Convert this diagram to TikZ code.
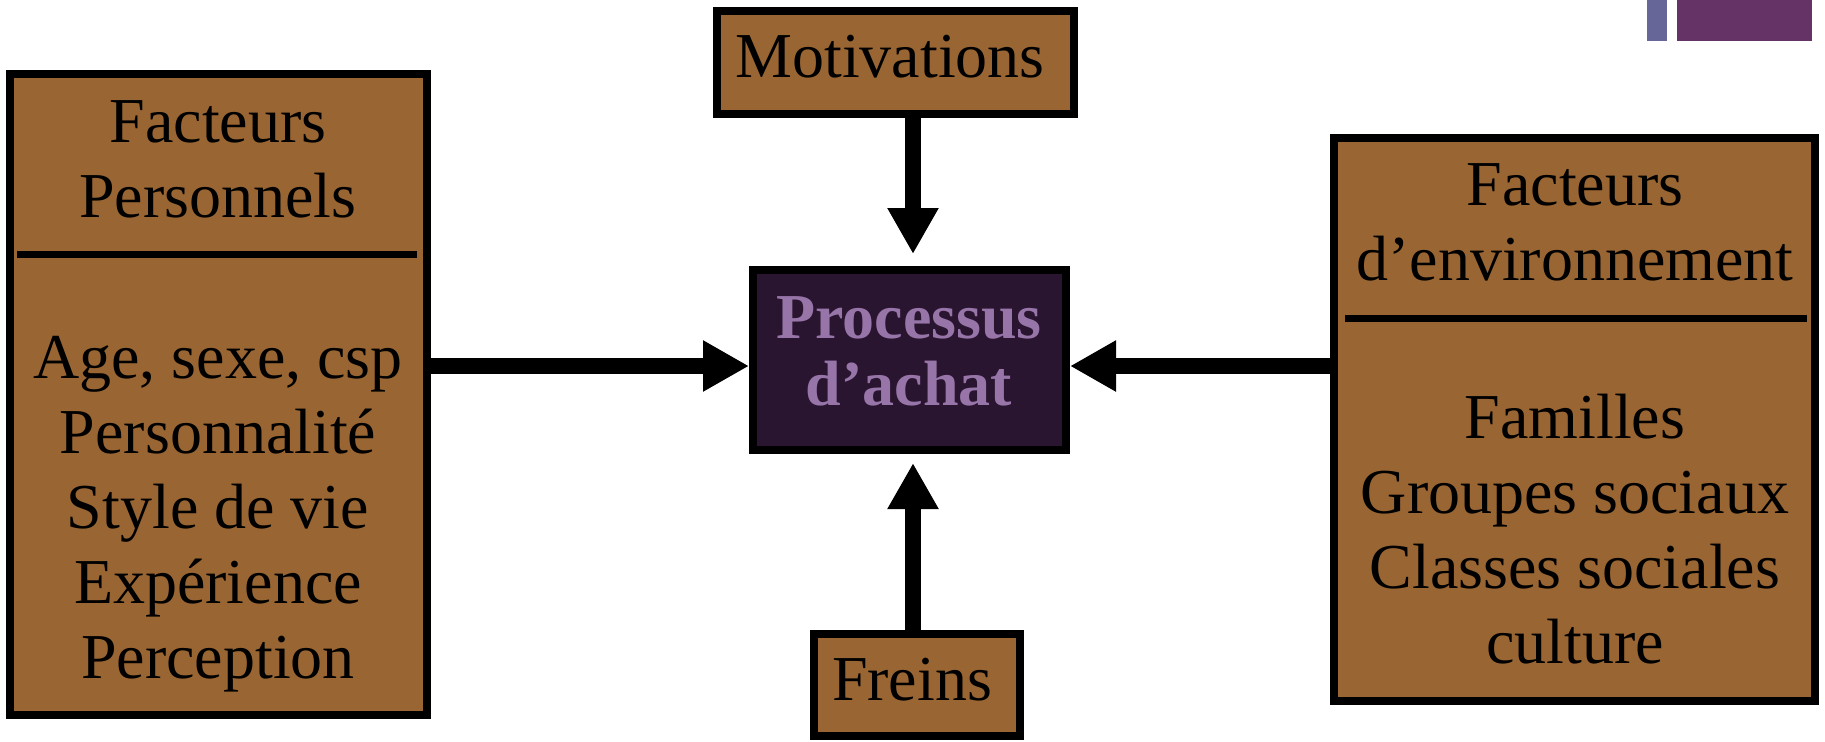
\documentclass[tikz,border=0pt]{standalone}
\usepackage{fontspec}
\setmainfont{Liberation Serif}
\usetikzlibrary{arrows.meta}
\definecolor{brun}{HTML}{996633}
\definecolor{violetfonce}{HTML}{2A1530}
\definecolor{violetclair}{HTML}{9775A9}
\definecolor{bleugris}{HTML}{666699}
\definecolor{prune}{HTML}{663366}
\tikzset{
  boite/.style={draw=black, line width=4pt, fill=brun, inner sep=0pt},
  texte/.style={anchor=base, align=center, inner sep=0pt, font=\fontsize{32}{37.5}\selectfont},
  trait/.style={line width=3.5pt},
  fleche/.style={line width=8pt, -{Triangle[width=24pt,length=23pt]}},
}
\begin{document}
\begin{tikzpicture}[x=0.5pt,y=-0.5pt]
                \useasboundingbox (0,0) rectangle (1825,741);
                \fill[bleugris] (1647,0) rectangle (1667,41);
                \fill[prune] (1677,0) rectangle (1812,41);

                \node[boite, minimum width=208.5pt, minimum height=320.5pt] (perso) at (218.5,394.5) {};
                \node[boite, minimum width=240.5pt, minimum height=281.5pt] (envi) at (1574.5,419.5) {};
                \node[boite, minimum width=178.5pt, minimum height=51.5pt] (motiv) at (895.5,62.5) {};
                \node[boite, minimum width=103pt, minimum height=51pt] (freins) at (917,685) {};
                \node[boite, fill=violetfonce, minimum width=156.5pt, minimum height=90pt] (proc) at (909.5,360) {};

                \draw[trait] (17,254) -- (417,254);
                \draw[trait] (1345,318) -- (1807,318);

                % anchor=base sits on the last line
                \node[texte] (tPerso) at (218,217) {Facteurs\\Personnels};
                \node[texte] (lPerso) at (218,678) {Age, sexe, csp\\Personnalité\\Style de vie\\Expérience\\Perception};
                \node[texte] (tEnvi) at (1575,280) {Facteurs\\d’environnement};
                \node[texte] (lEnvi) at (1575,663) {Familles\\Groupes sociaux\\Classes sociales\\culture};
                \node[texte] (tMotiv) at (890,77) {Motivations};
                \node[texte] (tFreins) at (912,700) {Freins};
                \node[texte, text=violetclair, font=\fontsize{32}{33.5}\selectfont\bfseries] (tProc) at (909,405) {Processus\\d’achat};

                \coordinate (milieu) at (0,366);
                \coordinate (axe) at (913,0);
                \draw[fleche] (perso.east |- milieu) -- (proc.west |- milieu);
                \draw[fleche] (envi.west |- milieu) -- (proc.east |- milieu);
                \draw[fleche, shorten >=6pt] (motiv.south -| axe) -- (proc.north -| axe);
                \draw[fleche, shorten >=4.5pt] (freins.north -| axe) -- (proc.south -| axe);
\end{tikzpicture}
\end{document}
